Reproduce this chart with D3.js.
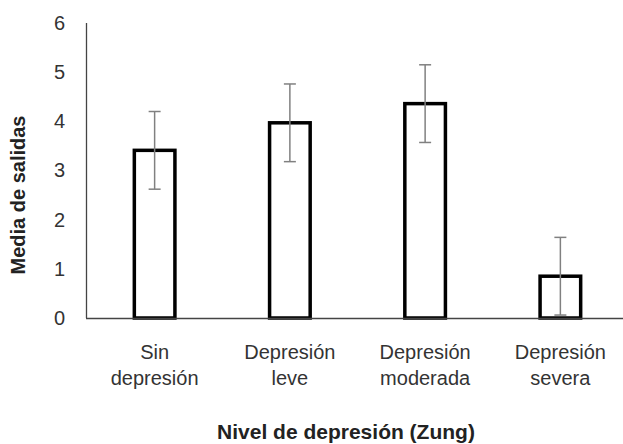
<!DOCTYPE html>
<html>
<head>
<meta charset="utf-8">
<script src="https://cdn.jsdelivr.net/npm/d3@7"></script>
<style>
  html, body { margin: 0; padding: 0; background: #fff; }
  svg { display: block; font-family: "Liberation Sans", Arial, sans-serif; }
</style>
</head>
<body>
<svg id="chart" width="623" height="444"></svg>
<script>
// Mean number of outings per Zung depression level, with error bars
const categories = [["Sin", "depresión"], ["Depresión", "leve"], ["Depresión", "moderada"], ["Depresión", "severa"]];
const means = [3.41, 3.97, 4.36, 0.85];
const errors = [0.79, 0.79, 0.79, 0.79];
const yTicks = [0, 1, 2, 3, 4, 5, 6];
const yTitle = "Media de salidas";
const xTitle = "Nivel de depresión (Zung)";

const svg = d3.select("#chart");
const keys = categories.map(c => c.join(" "));

const x = d3.scaleBand()
  .domain(keys)
  .range([87, 628])
  .paddingInner(0.674)
  .paddingOuter(0.337);

const y = d3.scaleLinear().domain([0, 6]).range([318, 23]);

// Y axis: labels only, plus a plain vertical line
const yAxis = d3.axisLeft(y).tickValues(yTicks).tickFormat(d3.format("d")).tickSize(0).tickPadding(0);
const gy = svg.append("g").attr("transform", "translate(65,0)").call(yAxis);
gy.select(".domain").remove();
gy.selectAll("text").attr("font-size", 20).attr("fill", "#333")
  .attr("font-family", "Liberation Sans, Arial, sans-serif");

svg.append("line")
  .attr("x1", 86.5).attr("x2", 86.5)
  .attr("y1", y(6)).attr("y2", y(0))
  .attr("stroke", "#444").attr("stroke-width", 1.3);

// Bars: white fill, heavy black outline
const sw = 3.5;
svg.append("g").selectAll("rect")
  .data(means)
  .join("rect")
  .attr("x", (d, i) => x(keys[i]) + sw / 2)
  .attr("width", x.bandwidth() - sw)
  .attr("y", d => y(d))
  .attr("height", d => y(0) - y(d))
  .attr("fill", "#fff")
  .attr("stroke", "#000")
  .attr("stroke-width", sw);

// X axis baseline
svg.append("line")
  .attr("x1", 86).attr("x2", 623)
  .attr("y1", y(0) + 0.5).attr("y2", y(0) + 0.5)
  .attr("stroke", "#444").attr("stroke-width", 1.3);

// Error bars
const eb = svg.append("g").attr("stroke", "#808080").attr("stroke-width", 1.5);
means.forEach((m, i) => {
  const cx = x(keys[i]) + x.bandwidth() / 2;
  const hi = y(m + errors[i]);
  const lo = y(m - errors[i]);
  eb.append("line").attr("x1", cx).attr("x2", cx).attr("y1", hi).attr("y2", lo);
  eb.append("line").attr("x1", cx - 6).attr("x2", cx + 6).attr("y1", hi).attr("y2", hi);
  eb.append("line").attr("x1", cx - 6).attr("x2", cx + 6).attr("y1", lo).attr("y2", lo);
});

// Category labels (two lines each)
const catG = svg.append("g").attr("font-size", 20).attr("fill", "#333").attr("text-anchor", "middle");
categories.forEach((lines, i) => {
  const cx = x(keys[i]) + x.bandwidth() / 2;
  const t = catG.append("text").attr("x", cx).attr("y", 359);
  lines.forEach((ln, j) => {
    t.append("tspan").attr("x", cx).attr("dy", j === 0 ? 0 : 26).text(ln);
  });
});

// Axis titles
svg.append("text")
  .attr("x", 346).attr("y", 439)
  .attr("text-anchor", "middle")
  .attr("font-size", 21).attr("font-weight", "bold").attr("fill", "#222")
  .text(xTitle);

svg.append("text")
  .attr("transform", "translate(25,195) rotate(-90)")
  .attr("text-anchor", "middle")
  .attr("font-size", 20).attr("font-weight", "bold").attr("fill", "#222")
  .text(yTitle);
</script>
</body>
</html>
